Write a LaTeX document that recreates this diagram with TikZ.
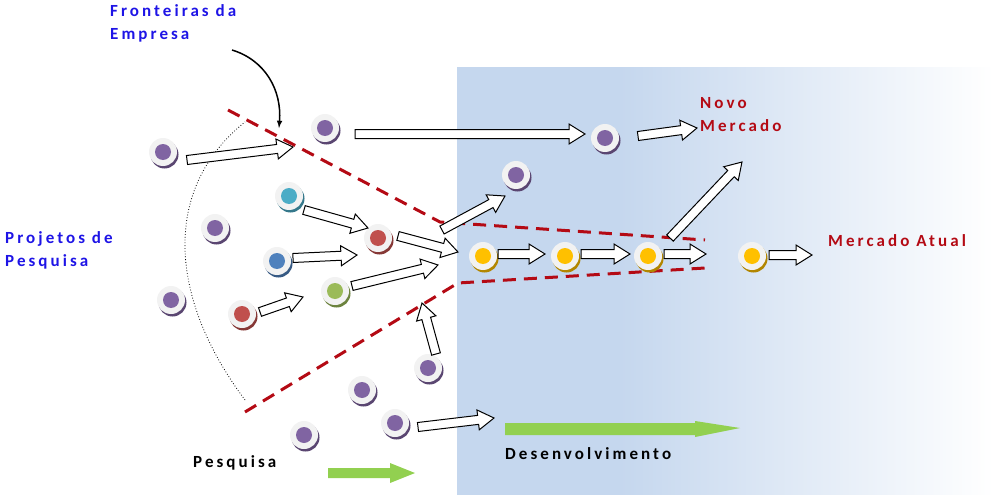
\documentclass[tikz,border=0pt]{standalone}
\usepackage{fontspec}
\setmainfont{Carlito}[LetterSpace=18]
\usetikzlibrary{calc}
\definecolor{fblue}{RGB}{30,20,230}
\definecolor{mred}{RGB}{180,10,20}
\definecolor{bpur}{RGB}{128,100,162}
\definecolor{bcya}{RGB}{75,172,198}
\definecolor{bred}{RGB}{192,80,77}
\definecolor{bblu}{RGB}{79,129,189}
\definecolor{bgrn}{RGB}{155,187,89}
\definecolor{byel}{RGB}{255,192,0}
\definecolor{lblue}{RGB}{197,215,238}
\definecolor{lgreen}{RGB}{146,208,80}
\tikzset{
 lbl/.style={font=\bfseries\fontsize{17}{23}\selectfont,align=left,anchor=north west,inner sep=0pt},
 barrow/.style={draw=black,fill=white,line width=1pt,line join=miter},
 bound/.style={draw=mred,line width=3pt,dash pattern=on 13pt off 8pt},
}
\newcommand\ball[3]{%
 \fill[#3!70!black] (#2)++(1.5,2.5) circle (14);
 \node[circle,fill=gray!10,minimum size=28pt,inner sep=0pt] (#1) at (#2) {};
 \fill[#3] (#2) circle (8);}
\newcommand\barr[2]{%
 \path[barrow] let \p1=(#1), \p2=(#2), \n1={atan2(\y2-\y1,\x2-\x1)}, \n2={veclen(\x2-\x1,\y2-\y1)} in
 [shift={(\p1)}, rotate=\n1] (0,-4.5) -- (\n2-16,-4.5) -- (\n2-16,-10) -- (\n2,0) -- (\n2-16,10) -- (\n2-16,4.5) -- (0,4.5) -- cycle;}
\begin{document}
\begin{tikzpicture}[x=1pt,y=-1pt]
\useasboundingbox (0,0) rectangle (994,495);
\shade[left color=lblue,right color=lblue] (457,68) rectangle (620,495);
\shade[left color=lblue,right color=white] (619.5,68) rectangle (994,495);
% texts
\node[lbl,text=fblue] (fe) at (110,4) {Fronteiras da\\Empresa};
\node[lbl,text=fblue] (pp) at (5,231) {Projetos de\\Pesquisa};
\node[lbl,text=mred] (nm) at (700,97) {Novo\\Mercado};
\node[lbl,text=mred] (ma) at (828,234) {Mercado Atual};
\node[lbl,text=black] (pe) at (193,455) {Pesquisa};
\node[lbl,text=black] (de) at (505,447) {Desenvolvimento};
% boundaries
\draw[bound] (228,110) -- (440,222) -- (705,240);
\draw[bound] (245,412) -- (458,283) -- (705,268);
\draw[dotted,line width=0.8pt] (245,400) .. controls (170,300) and (160,190) .. (245,122);
\coordinate (ca) at (232,50);
\coordinate (cb) at (279,128);
\draw[->,>=latex,line width=1.5pt] (ca) .. controls (265,60) and (282,90) .. (cb);
% balls
\ball{b1}{163,152}{bpur}
\ball{b2}{325,128}{bpur}
\ball{b3}{605,138}{bpur}
\ball{b4}{516,175}{bpur}
\ball{b5}{289,196}{bcya}
\ball{b6}{215,228}{bpur}
\ball{b7}{378,238}{bred}
\ball{b8}{277,261}{bblu}
\ball{y1}{483,256}{byel}
\ball{b9}{335,291}{bgrn}
\ball{b10}{171,300}{bpur}
\ball{b11}{242,314}{bred}
\ball{b12}{428,368}{bpur}
\ball{b13}{362,390}{bpur}
\ball{b14}{395,423}{bpur}
\ball{b15}{304,435}{bpur}
\ball{y2}{565,256}{byel}
\ball{y3}{648,256}{byel}
\ball{y4}{752,256}{byel}
% arrow ends
\foreach \n/\p in {a1s/{187,160},a1e/{293,147},a2s/{355,134},a2e/{585,134},a3s/{638,136},a3e/{697,128},
 a4s/{304,210},a4e/{368,228},a5s/{293,258},a5e/{357,255},a6s/{260,312},a6e/{303,297},
 a7s/{398,236},a7e/{458,252},a8s/{352,286},a8e/{438,265},a9s/{442,230},a9e/{505,196},
 a10s/{498,254},a10e/{545,254},a11s/{581,254},a11e/{630,254},a12s/{664,254},a12e/{706,254},
 a13s/{769,255},a13e/{812,255},a14s/{670,238},a14e/{742,162},a15s/{436,354},a15e/{422,303},
 a16s/{418,427},a16e/{494,418}}
 {\coordinate (\n) at (\p);}
\foreach \i in {1,...,16}{\barr{a\i s}{a\i e}}
% green arrows
\coordinate (g1s) at (505,428); \coordinate (g1e) at (740,428);
\coordinate (g2s) at (328,473); \coordinate (g2e) at (415,473);
\fill[lgreen] (g1s)++(0,-5) -- ++(190,0) -- ++(0,-2) -- (g1e) -- ++(-45,9) -- ++(0,-2) -- ++(-190,0) -- cycle;
\fill[lgreen] (g2s)++(0,-5) -- ++(62,0) -- ++(0,-5) -- (g2e) -- ++(-25,10) -- ++(0,-5) -- ++(-62,0) -- cycle;
\end{tikzpicture}
\end{document}
